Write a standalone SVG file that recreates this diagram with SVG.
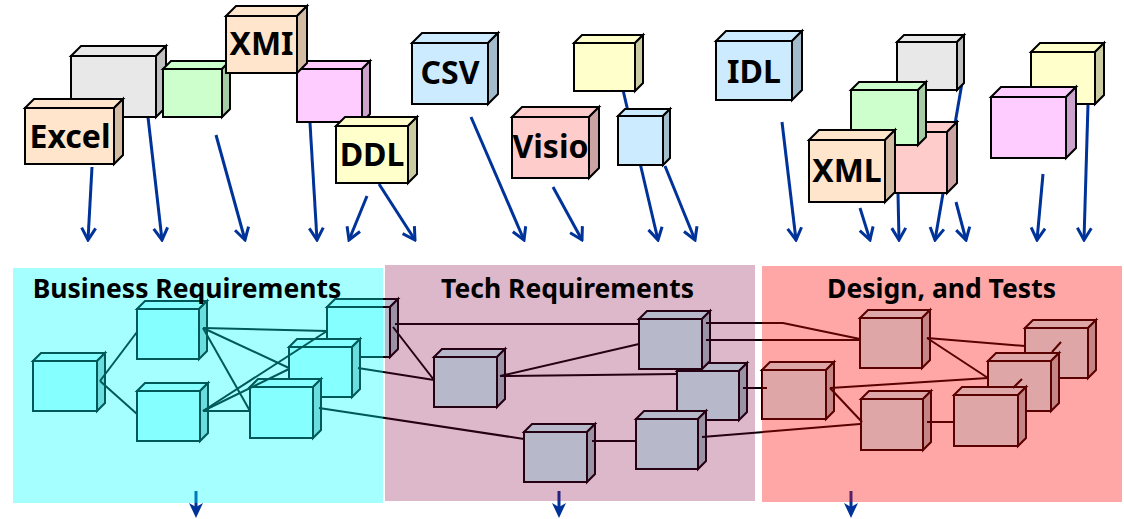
<svg xmlns="http://www.w3.org/2000/svg" width="1124" height="519" viewBox="0 0 1124 519">
  <style>
    .node rect, .node polygon { stroke: #000; stroke-width: 2; stroke-linejoin: miter; }
    .peach .f, .peach .t { fill: #FFE5CC; } .peach .s { fill: #D4BBA3; }
    .gray .f, .gray .t { fill: #E8E8E8; } .gray .s { fill: #C0C0C0; }
    .green .f, .green .t { fill: #CCFFCC; } .green .s { fill: #A6CCA6; }
    .pink .f, .pink .t { fill: #FFCCFF; } .pink .s { fill: #CCA3CC; }
    .yellow .f, .yellow .t { fill: #FFFFCC; } .yellow .s { fill: #CCCCA3; }
    .blue .f, .blue .t { fill: #CCEBFF; } .blue .s { fill: #A3BCCC; }
    .rose .f, .rose .t { fill: #FFCCCC; } .rose .s { fill: #CCA3A3; }
    .plain .f, .plain .t { fill: #CCFFFF; } .plain .s { fill: #A3CCCC; }
    .label { font-family: "Noto Sans", "DejaVu Sans", sans-serif; font-weight: bold; font-size: 32px; fill: #000; text-anchor: middle; }
    .title { font-family: "Noto Sans", "DejaVu Sans", sans-serif; font-weight: bold; font-size: 26.5px; fill: #000; text-anchor: middle; }
    .flow line { stroke: #003399; stroke-width: 3; fill: none; marker-end: url(#chev); }
    .out line { stroke: #003399; stroke-width: 3; marker-end: url(#dart); }
    .links line, .links polyline { stroke: #000; stroke-width: 2; fill: none; }
  </style>
  <defs>
    <marker id="chev" viewBox="-14 -10 16 20" markerWidth="16" markerHeight="20" refX="0" refY="0" orient="auto" markerUnits="userSpaceOnUse">
      <path d="M-12,-7 L0,0 L-12,7" fill="none" stroke="#003399" stroke-width="3"/>
    </marker>
    <marker id="dart" viewBox="-6 -8 17 16" markerWidth="17" markerHeight="16" refX="0" refY="0" orient="auto" markerUnits="userSpaceOnUse">
      <path d="M10,0 L-5,-7 L-1,0 L-5,7 Z" fill="#003399"/>
    </marker>
  </defs>

  <!-- flows from the source formats down into the requirement panels -->
  <g id="connectors" class="flow">
    <line x1="92" y1="167" x2="88" y2="240"/>
    <line x1="148" y1="117" x2="162" y2="240"/>
    <line x1="216" y1="135" x2="245" y2="240"/>
    <line x1="310" y1="123" x2="317" y2="240"/>
    <line x1="367" y1="196" x2="349" y2="240"/>
    <line x1="379" y1="184" x2="415" y2="240"/>
    <line x1="471" y1="117" x2="524" y2="240"/>
    <line x1="553" y1="187" x2="582" y2="240"/>
    <line x1="623" y1="90" x2="658" y2="240"/>
    <line x1="665" y1="166" x2="695" y2="240"/>
    <line x1="782" y1="122" x2="796" y2="240"/>
    <line x1="860" y1="208" x2="870" y2="240"/>
    <line x1="898" y1="193" x2="899" y2="240"/>
    <line x1="962" y1="83" x2="935" y2="240"/>
    <line x1="956" y1="202" x2="966" y2="240"/>
    <line x1="1043" y1="174" x2="1037" y2="240"/>
    <line x1="1088" y1="104" x2="1084" y2="240"/>
  </g>

  <!-- source format cubes -->
  <g id="gray-1" class="node gray">
    <rect class="f" x="71" y="56" width="85" height="61"/>
    <polygon class="t" points="71,56 81,46 166,46 156,56"/>
    <polygon class="s" points="156,56 166,46 166,107 156,117"/>
  </g>
  <g id="excel" class="node peach">
    <rect class="f" x="25" y="108" width="89" height="56"/>
    <polygon class="t" points="25,108 34,99 123,99 114,108"/>
    <polygon class="s" points="114,108 123,99 123,155 114,164"/>
    <text class="label" x="70" y="148">Excel</text>
  </g>
  <g id="green-1" class="node green">
    <rect class="f" x="163" y="69" width="59" height="48"/>
    <polygon class="t" points="163,69 171,61 230,61 222,69"/>
    <polygon class="s" points="222,69 230,61 230,109 222,117"/>
  </g>
  <g id="pink-1" class="node pink">
    <rect class="f" x="297" y="69" width="65" height="53"/>
    <polygon class="t" points="297,69 305,61 370,61 362,69"/>
    <polygon class="s" points="362,69 370,61 370,114 362,122"/>
  </g>
  <g id="xmi" class="node peach">
    <rect class="f" x="226" y="16" width="71" height="57"/>
    <polygon class="t" points="226,16 236,6 307,6 297,16"/>
    <polygon class="s" points="297,16 307,6 307,63 297,73"/>
    <text class="label" x="261.5" y="55">XMI</text>
  </g>
  <g id="ddl" class="node yellow">
    <rect class="f" x="336" y="126" width="72" height="57"/>
    <polygon class="t" points="336,126 345,117 417,117 408,126"/>
    <polygon class="s" points="408,126 417,117 417,174 408,183"/>
    <text class="label" x="372" y="166">DDL</text>
  </g>
  <g id="csv" class="node blue">
    <rect class="f" x="412" y="43" width="76" height="61"/>
    <polygon class="t" points="412,43 422,33 498,33 488,43"/>
    <polygon class="s" points="488,43 498,33 498,94 488,104"/>
    <text class="label" x="450" y="84">CSV</text>
  </g>
  <g id="yellow-1" class="node yellow">
    <rect class="f" x="574" y="43" width="61" height="48"/>
    <polygon class="t" points="574,43 582,35 643,35 635,43"/>
    <polygon class="s" points="635,43 643,35 643,83 635,91"/>
  </g>
  <g id="visio" class="node rose">
    <rect class="f" x="512" y="117" width="77" height="61"/>
    <polygon class="t" points="512,117 522,107 599,107 589,117"/>
    <polygon class="s" points="589,117 599,107 599,168 589,178"/>
    <text class="label" x="550.5" y="158">Visio</text>
  </g>
  <g id="blue-1" class="node blue">
    <rect class="f" x="618" y="116" width="45" height="49"/>
    <polygon class="t" points="618,116 625,109 670,109 663,116"/>
    <polygon class="s" points="663,116 670,109 670,158 663,165"/>
  </g>
  <g id="idl" class="node blue">
    <rect class="f" x="716" y="41" width="76" height="59"/>
    <polygon class="t" points="716,41 726,31 802,31 792,41"/>
    <polygon class="s" points="792,41 802,31 802,90 792,100"/>
    <text class="label" x="754" y="83">IDL</text>
  </g>
  <g id="gray-2" class="node gray">
    <rect class="f" x="897" y="42" width="60" height="48"/>
    <polygon class="t" points="897,42 904,35 964,35 957,42"/>
    <polygon class="s" points="957,42 964,35 964,83 957,90"/>
  </g>
  <g id="rose-1" class="node rose">
    <rect class="f" x="878" y="132" width="69" height="61"/>
    <polygon class="t" points="878,132 888,122 957,122 947,132"/>
    <polygon class="s" points="947,132 957,122 957,183 947,193"/>
  </g>
  <g id="green-2" class="node green">
    <rect class="f" x="851" y="90" width="67" height="55"/>
    <polygon class="t" points="851,90 859,82 926,82 918,90"/>
    <polygon class="s" points="918,90 926,82 926,137 918,145"/>
  </g>
  <g id="xml" class="node peach">
    <rect class="f" x="809" y="140" width="76" height="62"/>
    <polygon class="t" points="809,140 819,130 895,130 885,140"/>
    <polygon class="s" points="885,140 895,130 895,192 885,202"/>
    <text class="label" x="847" y="182">XML</text>
  </g>
  <g id="yellow-2" class="node yellow">
    <rect class="f" x="1031" y="52" width="64" height="52"/>
    <polygon class="t" points="1031,52 1040,43 1104,43 1095,52"/>
    <polygon class="s" points="1095,52 1104,43 1104,95 1095,104"/>
  </g>
  <g id="pink-2" class="node pink">
    <rect class="f" x="991" y="97" width="75" height="61"/>
    <polygon class="t" points="991,97 1001,87 1076,87 1066,97"/>
    <polygon class="s" points="1066,97 1076,87 1076,148 1066,158"/>
  </g>

  <!-- outputs leaving each panel -->
  <g id="outputs" class="out">
    <line x1="196" y1="491" x2="196" y2="508"/>
    <line x1="559" y1="491" x2="559" y2="508"/>
    <line x1="851" y1="491" x2="851" y2="508"/>
  </g>

  <!-- requirement and design elements (tinted by the panels above them) -->
  <g id="business-a" class="node plain">
    <rect class="f" x="33" y="361" width="64" height="50"/>
    <polygon class="t" points="33,361 41,353 105,353 97,361"/>
    <polygon class="s" points="97,361 105,353 105,403 97,411"/>
  </g>
  <g id="business-b" class="node plain">
    <rect class="f" x="137" y="309" width="62" height="50"/>
    <polygon class="t" points="137,309 145,301 207,301 199,309"/>
    <polygon class="s" points="199,309 207,301 207,351 199,359"/>
  </g>
  <g id="business-c" class="node plain">
    <rect class="f" x="137" y="391" width="63" height="50"/>
    <polygon class="t" points="137,391 145,383 208,383 200,391"/>
    <polygon class="s" points="200,391 208,383 208,433 200,441"/>
  </g>
  <g id="business-f" class="node plain">
    <rect class="f" x="327" y="307" width="63" height="50"/>
    <polygon class="t" points="327,307 335,299 398,299 390,307"/>
    <polygon class="s" points="390,307 398,299 398,349 390,357"/>
  </g>
  <g id="business-e" class="node plain">
    <rect class="f" x="289" y="347" width="63" height="50"/>
    <polygon class="t" points="289,347 297,339 360,339 352,347"/>
    <polygon class="s" points="352,347 360,339 360,389 352,397"/>
  </g>
  <g id="business-d" class="node plain">
    <rect class="f" x="250" y="387" width="63" height="51"/>
    <polygon class="t" points="250,387 258,379 321,379 313,387"/>
    <polygon class="s" points="313,387 321,379 321,430 313,438"/>
  </g>
  <g id="tech-1" class="node plain">
    <rect class="f" x="434" y="357" width="63" height="50"/>
    <polygon class="t" points="434,357 442,349 505,349 497,357"/>
    <polygon class="s" points="497,357 505,349 505,399 497,407"/>
  </g>
  <g id="tech-3" class="node plain">
    <rect class="f" x="677" y="371" width="62" height="49"/>
    <polygon class="t" points="677,371 685,363 747,363 739,371"/>
    <polygon class="s" points="739,371 747,363 747,412 739,420"/>
  </g>
  <g id="tech-2" class="node plain">
    <rect class="f" x="639" y="319" width="63" height="50"/>
    <polygon class="t" points="639,319 647,311 710,311 702,319"/>
    <polygon class="s" points="702,319 710,311 710,361 702,369"/>
  </g>
  <g id="tech-4" class="node plain">
    <rect class="f" x="524" y="432" width="63" height="50"/>
    <polygon class="t" points="524,432 532,424 595,424 587,432"/>
    <polygon class="s" points="587,432 595,424 595,474 587,482"/>
  </g>
  <g id="tech-5" class="node plain">
    <rect class="f" x="636" y="419" width="62" height="50"/>
    <polygon class="t" points="636,419 644,411 706,411 698,419"/>
    <polygon class="s" points="698,419 706,411 706,461 698,469"/>
  </g>
  <g id="design-1" class="node plain">
    <rect class="f" x="860" y="318" width="62" height="50"/>
    <polygon class="t" points="860,318 868,310 930,310 922,318"/>
    <polygon class="s" points="922,318 930,310 930,360 922,368"/>
  </g>
  <g id="design-2" class="node plain">
    <rect class="f" x="762" y="370" width="64" height="49"/>
    <polygon class="t" points="762,370 770,362 834,362 826,370"/>
    <polygon class="s" points="826,370 834,362 834,411 826,419"/>
  </g>
  <g id="design-3" class="node plain">
    <rect class="f" x="861" y="399" width="62" height="51"/>
    <polygon class="t" points="861,399 869,391 931,391 923,399"/>
    <polygon class="s" points="923,399 931,391 931,442 923,450"/>
  </g>
  <g id="design-6" class="node plain">
    <rect class="f" x="1025" y="328" width="63" height="50"/>
    <polygon class="t" points="1025,328 1033,320 1096,320 1088,328"/>
    <polygon class="s" points="1088,328 1096,320 1096,370 1088,378"/>
  </g>
  <g id="design-5" class="node plain">
    <rect class="f" x="988" y="361" width="63" height="50"/>
    <polygon class="t" points="988,361 996,353 1059,353 1051,361"/>
    <polygon class="s" points="1051,361 1059,353 1059,403 1051,411"/>
  </g>
  <g id="design-4" class="node plain">
    <rect class="f" x="954" y="395" width="64" height="51"/>
    <polygon class="t" points="954,395 962,387 1026,387 1018,395"/>
    <polygon class="s" points="1018,395 1026,387 1026,438 1018,446"/>
  </g>

  <!-- trace links between elements -->
  <g id="links" class="links">
    <line x1="100" y1="381" x2="137" y2="332"/>
    <line x1="100" y1="381" x2="137" y2="414"/>
    <line x1="203" y1="328" x2="327" y2="331"/>
    <line x1="203" y1="328" x2="289" y2="368"/>
    <line x1="203" y1="328" x2="250" y2="411"/>
    <line x1="203" y1="411" x2="327" y2="331"/>
    <line x1="203" y1="411" x2="289" y2="369"/>
    <line x1="203" y1="411" x2="250" y2="411"/>
    <line x1="395" y1="324" x2="639" y2="324"/>
    <line x1="393" y1="327" x2="434" y2="380"/>
    <line x1="358" y1="368" x2="434" y2="380"/>
    <line x1="319" y1="408" x2="524" y2="439"/>
    <line x1="500" y1="376" x2="639" y2="344"/>
    <line x1="500" y1="376" x2="677" y2="374"/>
    <line x1="592" y1="441" x2="636" y2="441"/>
    <polyline points="706,323 783,323 860,339"/>
    <line x1="706" y1="340" x2="860" y2="340"/>
    <line x1="743" y1="388" x2="767" y2="388"/>
    <line x1="702" y1="437" x2="860" y2="424"/>
    <line x1="927" y1="338" x2="1025" y2="346"/>
    <line x1="927" y1="338" x2="988" y2="378"/>
    <line x1="830" y1="388" x2="988" y2="378"/>
    <line x1="830" y1="388" x2="862" y2="422"/>
    <line x1="927" y1="422" x2="954" y2="422"/>
    <line x1="1052" y1="352" x2="1061" y2="342"/>
    <line x1="1013" y1="388" x2="1022" y2="379"/>
  </g>

  <!-- translucent panels grouping the stages -->
  <g id="business-requirements">
    <rect x="13" y="268" width="370" height="235" fill="#00FFFF" fill-opacity="0.35"/>
    <text class="title" x="187" y="298">Business Requirements</text>
  </g>
  <g id="tech-requirements">
    <rect x="385" y="265" width="370" height="236" fill="#800040" fill-opacity="0.28"/>
    <text class="title" x="567.5" y="298">Tech Requirements</text>
  </g>
  <g id="design-and-tests">
    <rect x="762" y="266" width="360" height="236" fill="#FF0000" fill-opacity="0.35"/>
    <text class="title" x="941.5" y="298">Design, and Tests</text>
  </g>
</svg>
